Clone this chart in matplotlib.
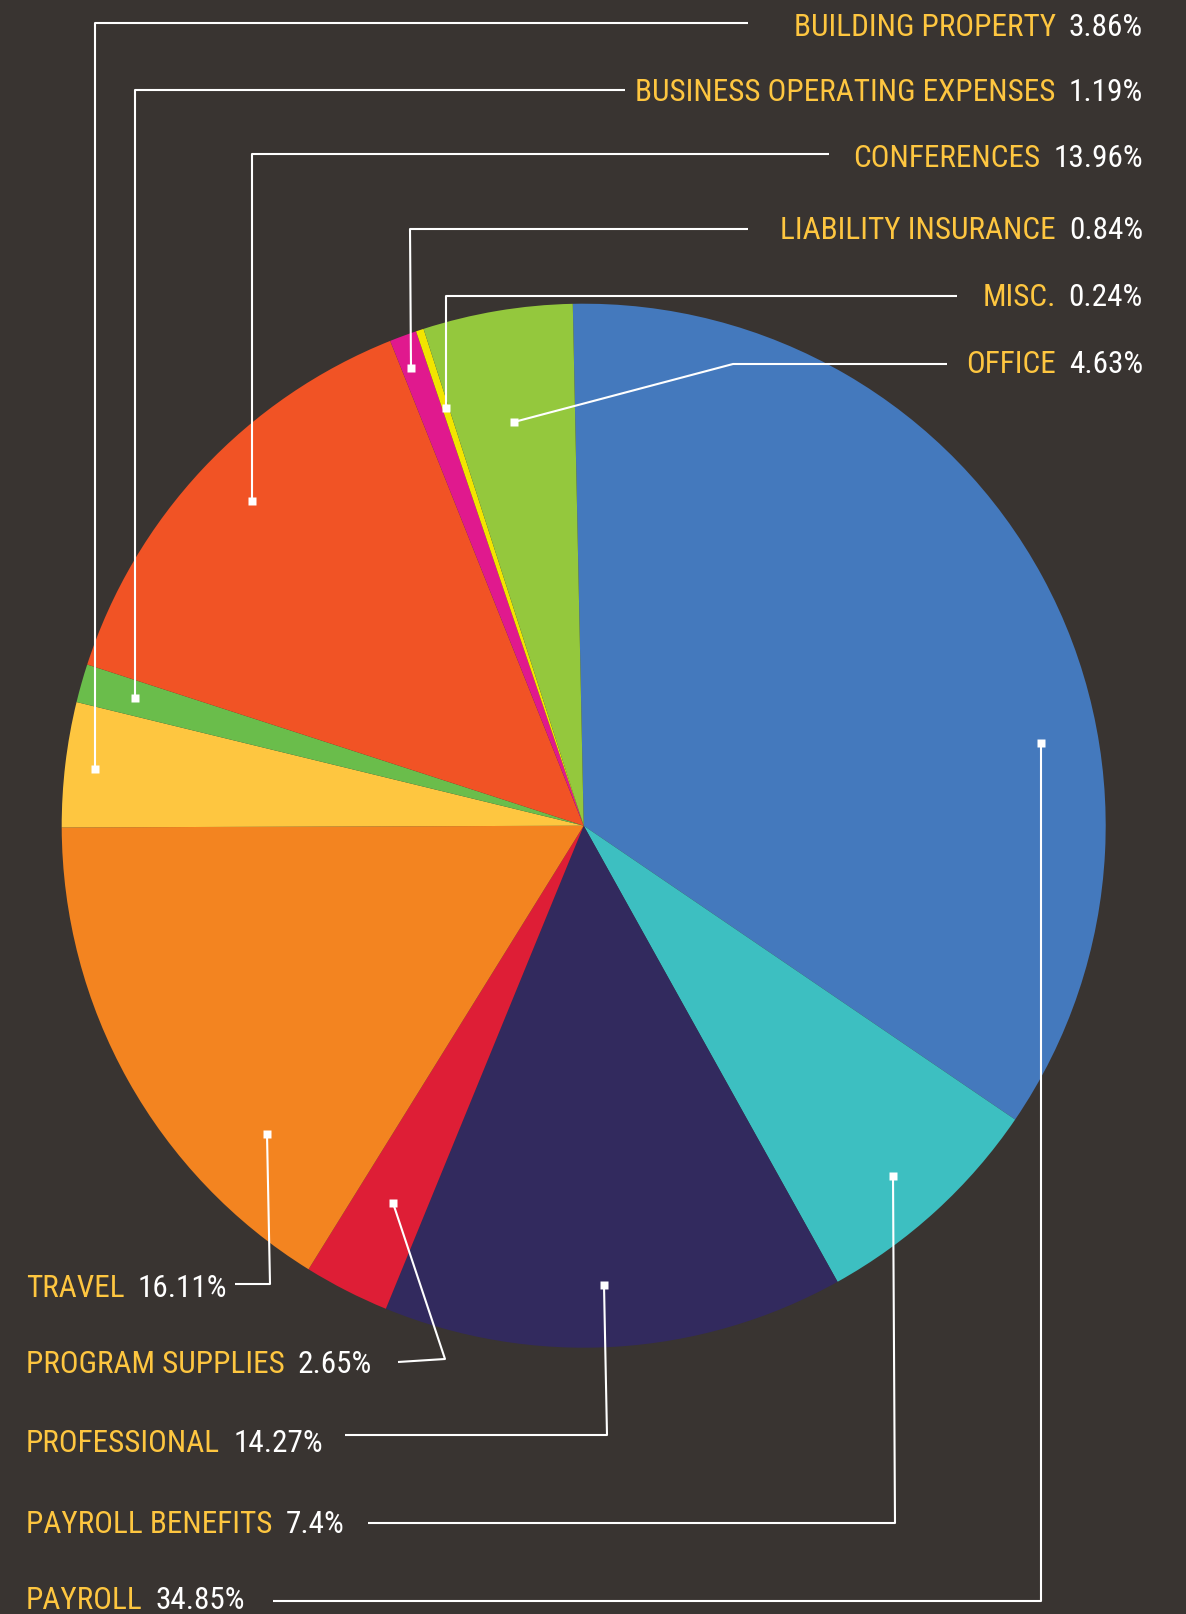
import matplotlib
matplotlib.use("Agg")
import matplotlib.pyplot as plt
from matplotlib import font_manager

categories = ["PAYROLL", "PAYROLL BENEFITS", "PROFESSIONAL", "PROGRAM SUPPLIES", "TRAVEL",
              "BUILDING PROPERTY", "BUSINESS OPERATING EXPENSES", "CONFERENCES",
              "LIABILITY INSURANCE", "MISC.", "OFFICE"]
values = [34.85, 7.4, 14.27, 2.65, 16.11, 3.86, 1.19, 13.96, 0.84, 0.24, 4.63]
value_labels = ["34.85%", "7.4%", "14.27%", "2.65%", "16.11%", "3.86%", "1.19%",
                "13.96%", "0.84%", "0.24%", "4.63%"]
colors = ["#4479BD", "#3DBFC1", "#322A5E", "#DE1E36", "#F38420", "#FEC640",
          "#6ABD4B", "#F15325", "#E0198E", "#F2E500", "#94C83D"]

BG = "#393431"
W, H = 1186, 1614
avail = {f.name for f in font_manager.fontManager.ttflist}
fam = [f for f in ["Roboto Condensed", "Liberation Sans Narrow", "Open Sans", "DejaVu Sans"] if f in avail]

fig = plt.figure(figsize=(W / 100, H / 100), dpi=100, facecolor=BG)
ax = fig.add_axes([0, 0, 1, 1])
ax.set_facecolor(BG)

cx, cy = 583.7, H - 825.7
ax.pie(values, colors=colors, startangle=91.2, counterclock=False,
       center=(cx, cy), radius=522, wedgeprops=dict(linewidth=0))
ax.set_xlim(0, W)
ax.set_ylim(0, H)
ax.set_aspect("auto")
ax.axis("off")

# leader paths (pixel coords, from anchor inside wedge to label)
leaders = {
    "BUILDING PROPERTY": [(95, 769), (95, 23), (748, 23)],
    "BUSINESS OPERATING EXPENSES": [(135, 698), (135, 90), (625, 90)],
    "CONFERENCES": [(252, 501), (252, 154), (829, 154)],
    "LIABILITY INSURANCE": [(411, 368), (410, 229), (748, 229)],
    "MISC.": [(446, 408), (446, 296), (957, 296)],
    "OFFICE": [(514, 422), (733, 364), (947, 364)],
    "PAYROLL": [(1041, 743), (1041, 1601), (273, 1601)],
    "PAYROLL BENEFITS": [(893, 1176), (895, 1523), (368, 1523)],
    "PROFESSIONAL": [(604, 1285), (607, 1435), (345, 1435)],
    "PROGRAM SUPPLIES": [(393, 1203), (445, 1359), (398, 1362)],
    "TRAVEL": [(267, 1134), (270, 1284), (235, 1284)],
}
for name, pts in leaders.items():
    xs = [p[0] for p in pts]
    ys = [H - p[1] for p in pts]
    ax.plot(xs, ys, color="white", lw=1.5, solid_capstyle="butt", zorder=3)
    ax.plot(xs[0], ys[0], marker="s", ms=5.8, color="white", mec="none", zorder=4)

right_labels = {  # baseline y
    "BUILDING PROPERTY": 36, "BUSINESS OPERATING EXPENSES": 101, "CONFERENCES": 167,
    "LIABILITY INSURANCE": 239, "MISC.": 306, "OFFICE": 373,
}
left_labels = {
    "TRAVEL": 1297, "PROGRAM SUPPLIES": 1373, "PROFESSIONAL": 1452,
    "PAYROLL BENEFITS": 1533, "PAYROLL": 1609,
}
FS = 22.5
WT = "normal"
YEL = "#FEC640"
fig.canvas.draw()
r = fig.canvas.get_renderer()
gap = 13

for name, yb in right_labels.items():
    i = categories.index(name)
    t = ax.text(1143, H - yb, value_labels[i], color="white", fontsize=FS, family=fam,
                weight=WT, ha="right", va="baseline")
    bb = t.get_window_extent(renderer=r)
    ax.text(bb.x0 - gap, H - yb, name, color=YEL, fontsize=FS, family=fam, weight=WT,
            ha="right", va="baseline")

for name, yb in left_labels.items():
    i = categories.index(name)
    t = ax.text(26, H - yb, name, color=YEL, fontsize=FS, family=fam, weight=WT,
                ha="left", va="baseline")
    bb = t.get_window_extent(renderer=r)
    ax.text(bb.x1 + gap, H - yb, value_labels[i], color="white", fontsize=FS, family=fam,
            weight=WT, ha="left", va="baseline")

fig.savefig("out.png", dpi=100, facecolor=BG)
